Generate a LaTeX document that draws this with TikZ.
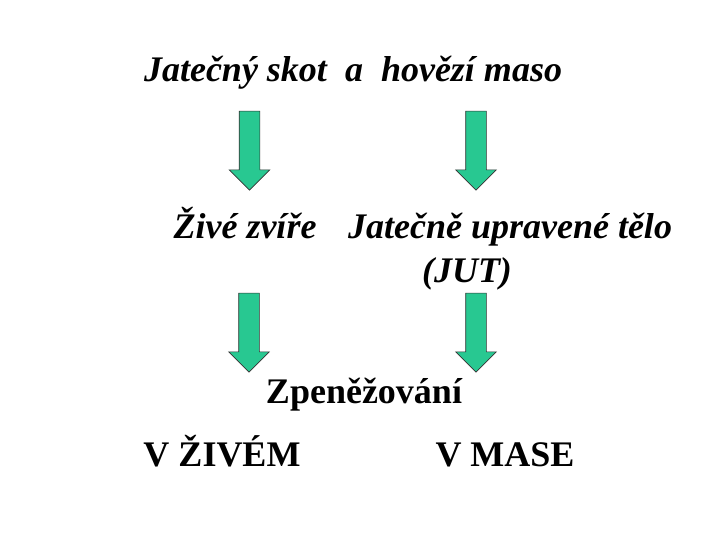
\documentclass[tikz,border=0pt]{standalone}
\usepackage{fontspec}
\setmainfont{Liberation Serif}
\usetikzlibrary{positioning, shapes.arrows}
\definecolor{sipka}{RGB}{40,200,145}

\begin{document}
\begin{tikzpicture}[x=1pt, y=-1pt,
	nadpis/.style={anchor=base, inner sep=0pt, font=\fontsize{36}{42}\selectfont\bfseries\itshape},
	popis/.style={anchor=base, inner sep=0pt, font=\fontsize{36}{42}\selectfont\bfseries},
	sipkadolu/.style={single arrow, draw=black!80, line width=0.6pt, fill=sipka, inner xsep=0pt,
		inner ysep=10pt, minimum height=79pt, single arrow head extend=10pt, rotate=-90}]
		
		\useasboundingbox (0,0) rectangle (720,540);
		
		%Uzly s texty
		\node (skot) at (353,82) [nadpis] {Jatečný skot\ \ a\ \ hovězí maso};
		
		\node (zvire) at (245,238) [nadpis] {Živé zvíře};
		
		\node (telo) at (510,238) [nadpis] {Jatečně upravené tělo};
		
		\node (jut) at (467,282) [nadpis] {(JUT)};
		
		\node (zpenezovani) at (364,403) [popis] {Zpeněžování};
		
		\node (zivem) at (222,466) [popis] {V ŽIVÉM};
		
		\node (mase) at (505,466) [popis] {V MASE};
		
		%Sipky
		\node (sipkaA) at (249.5,145.5) [sipkadolu] {};
		\node (sipkaB) at (476,145.5) [sipkadolu] {};
		\node (sipkaC) at (249,327.5) [sipkadolu] {};
		\node (sipkaD) at (476,327.5) [sipkadolu] {};
		
\end{tikzpicture}
\end{document}
